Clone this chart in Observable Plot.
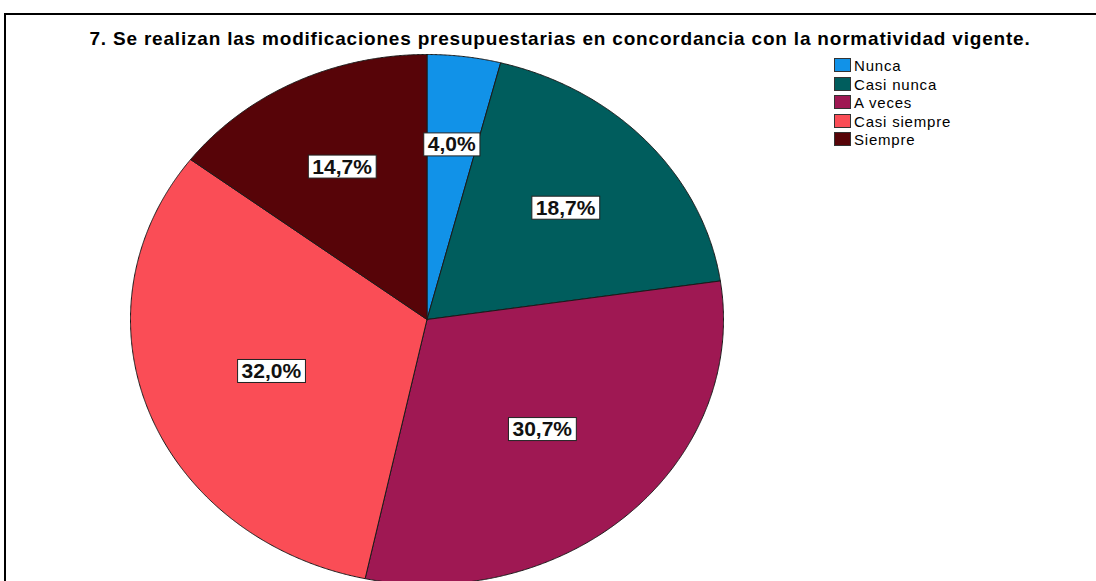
<!DOCTYPE html>
<html>
<head>
<meta charset="utf-8">
<script src="https://cdn.jsdelivr.net/npm/d3@7"></script>
<script src="https://cdn.jsdelivr.net/npm/@observablehq/plot@0.6"></script>
<style>
  html, body { margin: 0; padding: 0; background: #fff; overflow: hidden; }
  body { width: 1096px; height: 581px; position: relative; font-family: "Liberation Sans", Arial, sans-serif; }
  #frame { position: absolute; left: 4px; top: 13px; width: 1200px; height: 700px; border: 2px solid #000; box-sizing: border-box; pointer-events: none; }
  #chart { position: absolute; left: 0; top: 0; }
  #title { position: absolute; left: 0; width: 1120px; top: 29px; text-align: center; font-weight: bold; font-size: 19px; line-height: 19px; letter-spacing: 0.8px; color: #000; white-space: nowrap; }
  #legend { position: absolute; left: 834px; top: 58px; }
  .row { position: absolute; left: 0; height: 14px; white-space: nowrap; }
  .sw { position: absolute; left: 0; top: 0; width: 15px; height: 12px; border: 1px solid #333; }
  .lt { position: absolute; left: 20px; top: 0; font-size: 15px; line-height: 15px; letter-spacing: 0.8px; color: #000; }
</style>
</head>
<body>
<div id="chart"></div>
<div id="frame"></div>
<div id="title"></div>
<div id="legend"></div>
<script>
// ---- data ----
const title = "7. Se realizan las modificaciones presupuestarias en concordancia con la normatividad vigente.";
const categories = ["Nunca", "Casi nunca", "A veces", "Casi siempre", "Siempre"];
const percents = [4.0, 18.7, 30.7, 32.0, 14.7];
const colors = ["#1192e8", "#005d5d", "#9f1853", "#fa4d56", "#570408"];

// ---- layout ----
const W = 1096, H = 581;
const cx = 426.5, cy = 319, rx = 296.5, ry = 265;

const total = d3.sum(percents);
const slices = [];
const labels = [];
let acc = 0;
percents.forEach((p, i) => {
  const a0 = acc / total * 2 * Math.PI;
  acc += p;
  const a1 = acc / total * 2 * Math.PI;
  const n = Math.max(2, Math.ceil((a1 - a0) / (Math.PI / 720)));
  slices.push({cat: categories[i], x: 0, y: 0});
  for (let j = 0; j <= n; j++) {
    const a = a0 + (a1 - a0) * j / n;
    slices.push({cat: categories[i], x: Math.sin(a), y: Math.cos(a)});
  }
  slices.push({cat: categories[i], x: 0, y: 0});
  const half = (a1 - a0) / 2, mid = a0 + half;
  const f = 2 * Math.sin(half) / (3 * half);
  labels.push({cat: categories[i], x: f * Math.sin(mid), y: f * Math.cos(mid),
               text: p.toFixed(1).replace(".", ",") + "%"});
});

const chart = Plot.plot({
  width: W, height: H,
  margin: 0,
  x: {domain: [-cx / rx, (W - cx) / rx], axis: null},
  y: {domain: [-(H - cy) / ry, cy / ry], axis: null},
  color: {domain: categories, range: colors},
  style: {background: "transparent", overflow: "hidden"},
  marks: [
    Plot.line(slices, {x: "x", y: "y", z: "cat", fill: "cat", stroke: "#1a1a1a", strokeWidth: 1, strokeLinejoin: "round", curve: "linear"}),
    Plot.text(labels, {x: "x", y: "y", text: "text", fill: "#111", fontSize: 21, fontWeight: "bold", fontFamily: "Liberation Sans, Arial, sans-serif"})
  ]
});
document.getElementById("chart").appendChild(chart);

// white boxes behind the labels
const svg = chart.tagName.toLowerCase() === "svg" ? chart : chart.querySelector("svg");
svg.querySelectorAll('g[aria-label="text"] text').forEach(t => {
  const b = t.getBBox();
  const r = document.createElementNS("http://www.w3.org/2000/svg", "rect");
  r.setAttribute("x", b.x - 4);
  r.setAttribute("y", b.y + 0.5);
  r.setAttribute("width", b.width + 8);
  r.setAttribute("height", b.height);
  r.setAttribute("fill", "#fff");
  r.setAttribute("stroke", "#222");
  r.setAttribute("stroke-width", 1);
  const tr = t.getAttribute("transform");
  if (tr) r.setAttribute("transform", tr);
  t.parentNode.insertBefore(r, t);
});

document.getElementById("title").textContent = title;
const leg = document.getElementById("legend");
categories.forEach((c, i) => {
  const row = document.createElement("div");
  row.className = "row";
  row.style.top = (i * 18.6) + "px";
  const sw = document.createElement("div");
  sw.className = "sw";
  sw.style.background = colors[i];
  const lt = document.createElement("div");
  lt.className = "lt";
  lt.textContent = c;
  row.appendChild(sw); row.appendChild(lt);
  leg.appendChild(row);
});
</script>
</body>
</html>
